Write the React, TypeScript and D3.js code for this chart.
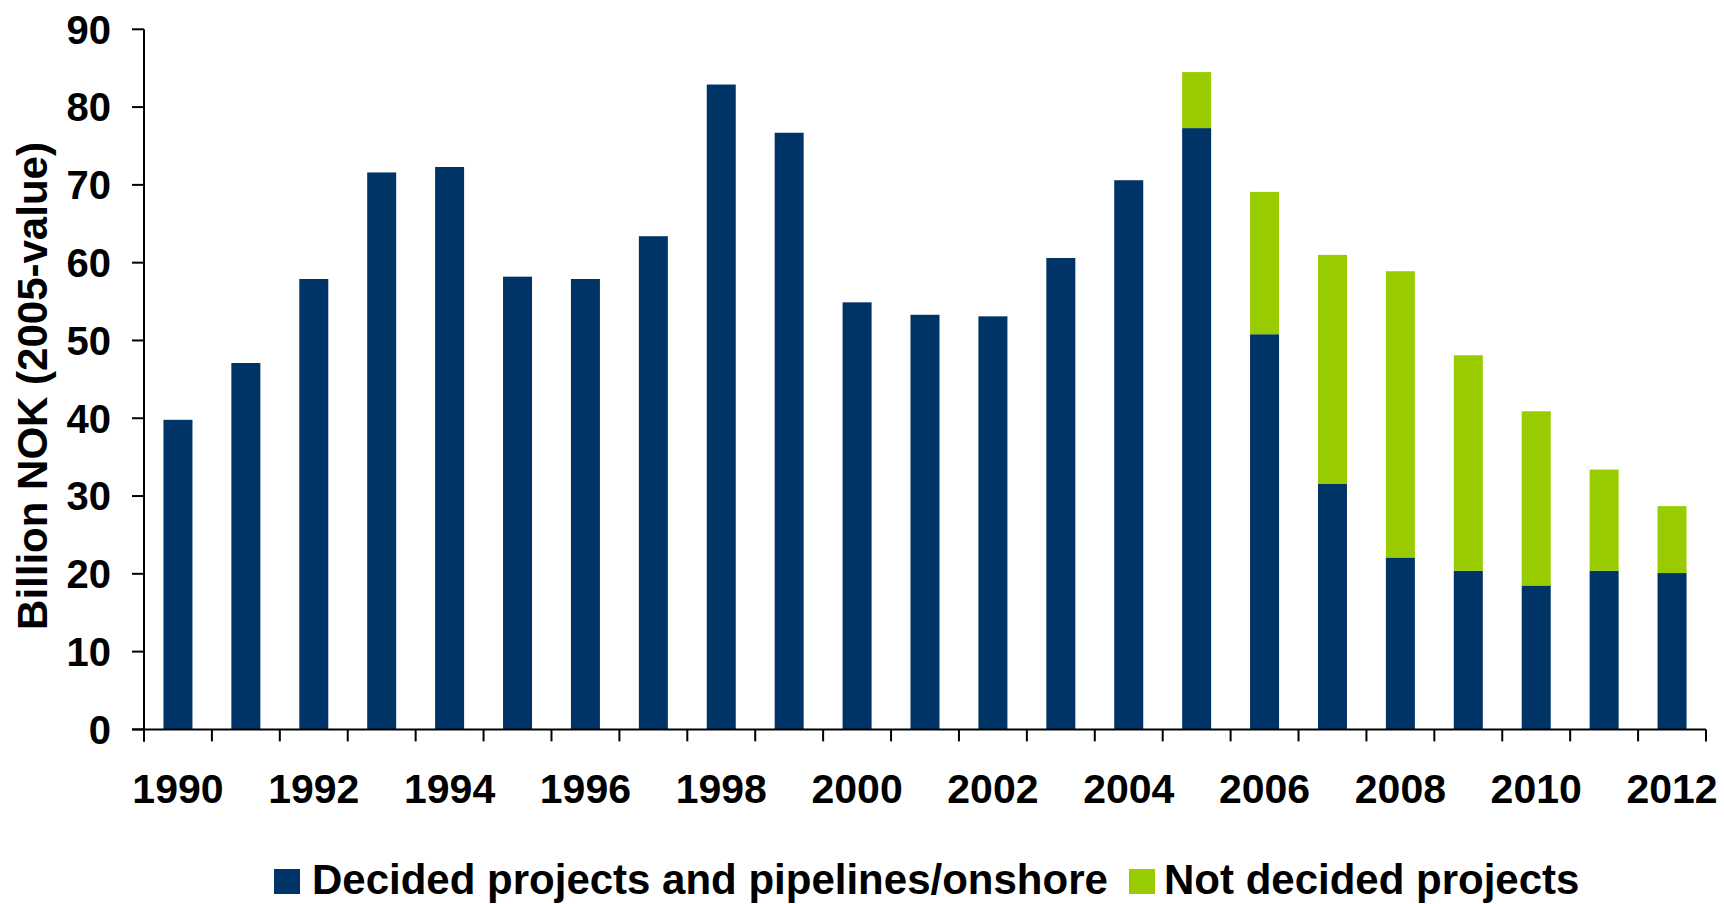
import React from "react";
import * as d3 from "d3";

const years = [1990,1991,1992,1993,1994,1995,1996,1997,1998,1999,2000,2001,2002,2003,2004,2005,2006,2007,2008,2009,2010,2011,2012];
const decided = [39.8,47.1,57.9,71.6,72.3,58.2,57.9,63.4,82.9,76.7,54.9,53.3,53.1,60.6,70.6,77.3,50.8,31.6,22.1,20.4,18.5,20.4,20.1];
const notDecided = [0,0,0,0,0,0,0,0,0,0,0,0,0,0,0,7.2,18.3,29.4,36.8,27.7,22.4,13.0,8.6];
const yTicks = [0,10,20,30,40,50,60,70,80,90];
const xLabelYears = [1990,1992,1994,1996,1998,2000,2002,2004,2006,2008,2010,2012];
const seriesNames = ["Decided projects and pipelines/onshore", "Not decided projects"];
const colors = ["#003366", "#99CC00"];
const yTitle = "Billion NOK (2005-value)";

const W = 1724, H = 904;
const left = 144, right = 1706, top = 29.3, bottom = 729.4;
const font = "'Liberation Sans', Arial, Helvetica, sans-serif";

export default function App() {
  const x = d3.scaleBand<number>().domain(years).range([left, right]).paddingInner(0.573).paddingOuter(0.2865);
  const y = d3.scaleLinear().domain([0, 90]).range([bottom, top]);
  const step = x.step();
  const rows = years.map((yr, i) => ({ yr, a: decided[i], b: notDecided[i] }));
  const stack = d3.stack<any>().keys(["a", "b"])(rows as any);

  const tickLen = 12;
  const boundaries = d3.range(years.length + 1).map(i => left + i * step);

  return (
    <svg width={W} height={H} style={{ position: "absolute", left: 0, top: 0, background: "#fff" }}>
      <rect x={0} y={0} width={W} height={H} fill="#fff" />
      {stack.map((s, si) => (
        <g key={si} fill={colors[si]}>
          {s.map((d: any, i: number) => (
            d[1] - d[0] > 0 ? (
              <rect key={i} x={x(years[i])} width={x.bandwidth()} y={y(d[1])} height={y(d[0]) - y(d[1])} />
            ) : null
          ))}
        </g>
      ))}
      {/* axes */}
      <g stroke="#000" strokeWidth={2} fill="none">
        <line x1={left} x2={left} y1={top} y2={bottom + tickLen} />
        <line x1={left - tickLen} x2={right} y1={bottom} y2={bottom} />
        {yTicks.map(t => (
          <line key={t} x1={left - tickLen} x2={left} y1={y(t)} y2={y(t)} />
        ))}
        {boundaries.map((b, i) => (
          <line key={i} x1={b} x2={b} y1={bottom} y2={bottom + tickLen} />
        ))}
      </g>
      <g fontFamily={font} fontWeight="bold" fontSize={40} fill="#000" textAnchor="end">
        {yTicks.map(t => (
          <text key={t} x={111} y={y(t)} dy="0.36em">{t}</text>
        ))}
      </g>
      <g fontFamily={font} fontWeight="bold" fontSize={41} fill="#000" textAnchor="middle">
        {xLabelYears.map(yr => (
          <text key={yr} x={(x(yr) as number) + x.bandwidth() / 2} y={803}>{yr}</text>
        ))}
      </g>
      <text fontFamily={font} fontWeight="bold" fontSize={42} fill="#000" textAnchor="middle"
        transform={`translate(47,386) rotate(-90)`}>{yTitle}</text>
      {/* legend */}
      <g fontFamily={font} fontWeight="bold" fontSize={42} fill="#000">
        <rect x={274} y={869} width={26} height={25} fill={colors[0]} />
        <text x={312} y={894}>{seriesNames[0]}</text>
        <rect x={1129} y={869} width={26} height={25} fill={colors[1]} />
        <text x={1164} y={894}>{seriesNames[1]}</text>
      </g>
    </svg>
  );
}
